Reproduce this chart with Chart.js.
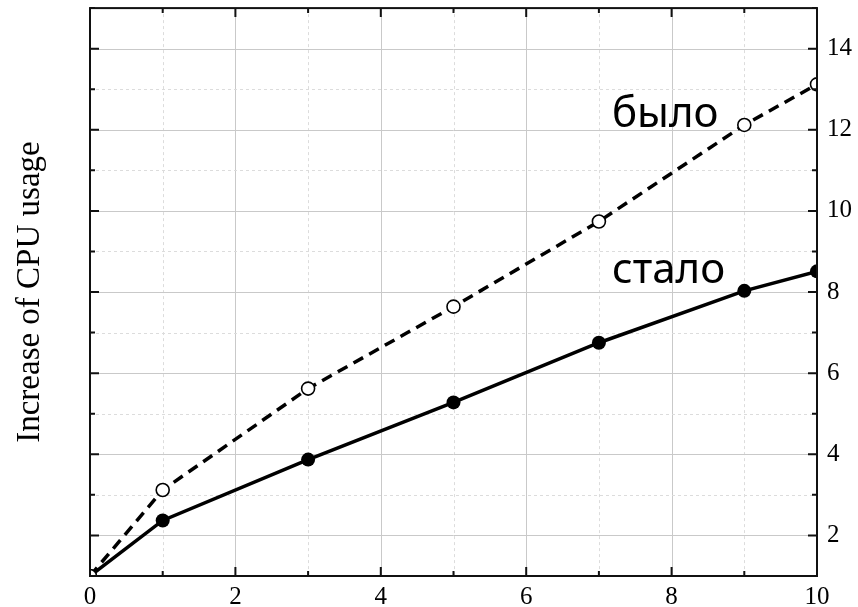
<!DOCTYPE html>
<html>
<head>
<meta charset="utf-8">
<script src="https://cdn.jsdelivr.net/npm/chart.js@4"></script>
<style>
  html, body { margin: 0; padding: 0; background: #fff; }
  #wrap { width: 858px; height: 607px; }
</style>
</head>
<body>
<div id="wrap"><canvas id="cpuChart"></canvas></div>
<script>
// values
const xValues = [0, 1, 3, 5, 7, 9, 10];
const byloValues = [1, 3.12, 5.62, 7.64, 9.74, 12.12, 13.12];
const staloValues = [1, 2.37, 3.87, 5.28, 6.75, 8.03, 8.51];
const seriesNames = ['было', 'стало'];
const xTickLabels = [0, 2, 4, 6, 8, 10];
const yTickLabels = [2, 4, 6, 8, 10, 12, 14];

// where the in-plot captions sit, in data units
const captionAt = [{ x: 7.18, y: 12.08 }, { x: 7.18, y: 8.23 }];

const serif = '"Liberation Serif", "DejaVu Serif", serif';

const frame = {
    id: 'frame',
    beforeDatasetsDraw(chart) {
        const { ctx, chartArea: a, scales } = chart;
        ctx.save();
        ctx.lineWidth = 1;
        scales.x.ticks.forEach(t => {
            const px = Math.round(scales.x.getPixelForValue(t.value)) + 0.5;
            const major = xTickLabels.includes(t.value);
            ctx.strokeStyle = major ? '#c9c9c9' : '#dcdcdc';
            ctx.setLineDash(major ? [] : [3, 3]);
            ctx.beginPath(); ctx.moveTo(px, a.top); ctx.lineTo(px, a.bottom); ctx.stroke();
        });
        scales.y.ticks.forEach(t => {
            const py = Math.round(scales.y.getPixelForValue(t.value)) + 0.5;
            const major = yTickLabels.includes(t.value);
            ctx.strokeStyle = major ? '#c9c9c9' : '#dcdcdc';
            ctx.setLineDash(major ? [] : [3, 3]);
            ctx.beginPath(); ctx.moveTo(a.left, py); ctx.lineTo(a.right, py); ctx.stroke();
        });
        ctx.restore();
    },
    afterDatasetsDraw(chart) {
        const { ctx, chartArea: a, scales } = chart;
        ctx.save();
        ctx.strokeStyle = '#111';
        ctx.lineWidth = 2;
        ctx.setLineDash([]);
        scales.x.ticks.forEach(t => {
            const px = scales.x.getPixelForValue(t.value);
            const len = xTickLabels.includes(t.value) ? 9 : 5;
            ctx.beginPath();
            ctx.moveTo(px, a.bottom); ctx.lineTo(px, a.bottom - len);
            ctx.moveTo(px, a.top); ctx.lineTo(px, a.top + len);
            ctx.stroke();
        });
        scales.y.ticks.forEach(t => {
            const py = scales.y.getPixelForValue(t.value);
            const len = yTickLabels.includes(t.value) ? 9 : 5;
            ctx.beginPath();
            ctx.moveTo(a.left, py); ctx.lineTo(a.left + len, py);
            ctx.moveTo(a.right, py); ctx.lineTo(a.right - len, py);
            ctx.stroke();
        });
        ctx.strokeRect(a.left, a.top, a.right - a.left, a.bottom - a.top);

        ctx.fillStyle = '#000';
        ctx.font = '42px "Noto Sans", "Open Sans", sans-serif';
        ctx.textBaseline = 'alphabetic';
        ctx.textAlign = 'left';
        seriesNames.forEach((name, i) => {
            ctx.fillText(name, scales.x.getPixelForValue(captionAt[i].x), scales.y.getPixelForValue(captionAt[i].y));
        });
        ctx.restore();
    }
};

new Chart(document.getElementById('cpuChart').getContext('2d'), {
    type: 'line',
    data: {
        datasets: [{
            label: seriesNames[0],
            data: xValues.map((x, i) => ({ x: x, y: byloValues[i] })),
            borderColor: '#000',
            borderWidth: 3.5,
            borderDash: [11, 7],
            pointRadius: 6.5,
            pointBorderWidth: 1.6,
            pointBackgroundColor: '#fff',
            pointBorderColor: '#000',
            tension: 0,
            clip: 0
        }, {
            label: seriesNames[1],
            data: xValues.map((x, i) => ({ x: x, y: staloValues[i] })),
            borderColor: '#000',
            borderWidth: 3.5,
            pointRadius: 7,
            pointBorderWidth: 0,
            pointBackgroundColor: '#000',
            tension: 0,
            clip: 0
        }]
    },
    options: {
        responsive: true,
        maintainAspectRatio: false,
        animation: false,
        layout: { padding: { top: 8, right: 0, left: 0, bottom: 0 } },
        plugins: { legend: { display: false }, tooltip: { enabled: false } },
        scales: {
            x: {
                type: 'linear', min: 0, max: 10,
                grid: { display: false, drawTicks: false },
                border: { display: false },
                ticks: {
                    stepSize: 1, padding: 6, color: '#000',
                    font: { family: serif, size: 25 },
                    callback: v => xTickLabels.includes(v) ? String(v) : ''
                },
                afterFit(s) { s.height = 31; s.paddingLeft = 0; s.paddingRight = 0; }
            },
            y: {
                type: 'linear', position: 'right', min: 1, max: 15,
                grid: { display: false, drawTicks: false },
                border: { display: false },
                ticks: {
                    stepSize: 1, padding: 10, color: '#000',
                    font: { family: serif, size: 25 },
                    callback: v => yTickLabels.includes(v) ? String(v) : ''
                },
                afterFit(s) { s.width = 41; s.paddingTop = 0; s.paddingBottom = 0; }
            },
            yTitle: {
                type: 'linear', position: 'left', min: 1, max: 15,
                grid: { display: false, drawTicks: false },
                border: { display: false },
                ticks: { display: false },
                title: {
                    display: true, text: 'Increase of CPU usage', color: '#000',
                    font: { family: serif, size: 33 }, padding: { top: 11 }
                },
                afterFit(s) { s.width = 90; s.paddingTop = 0; s.paddingBottom = 0; }
            }
        }
    },
    plugins: [frame]
});
</script>
</body>
</html>
